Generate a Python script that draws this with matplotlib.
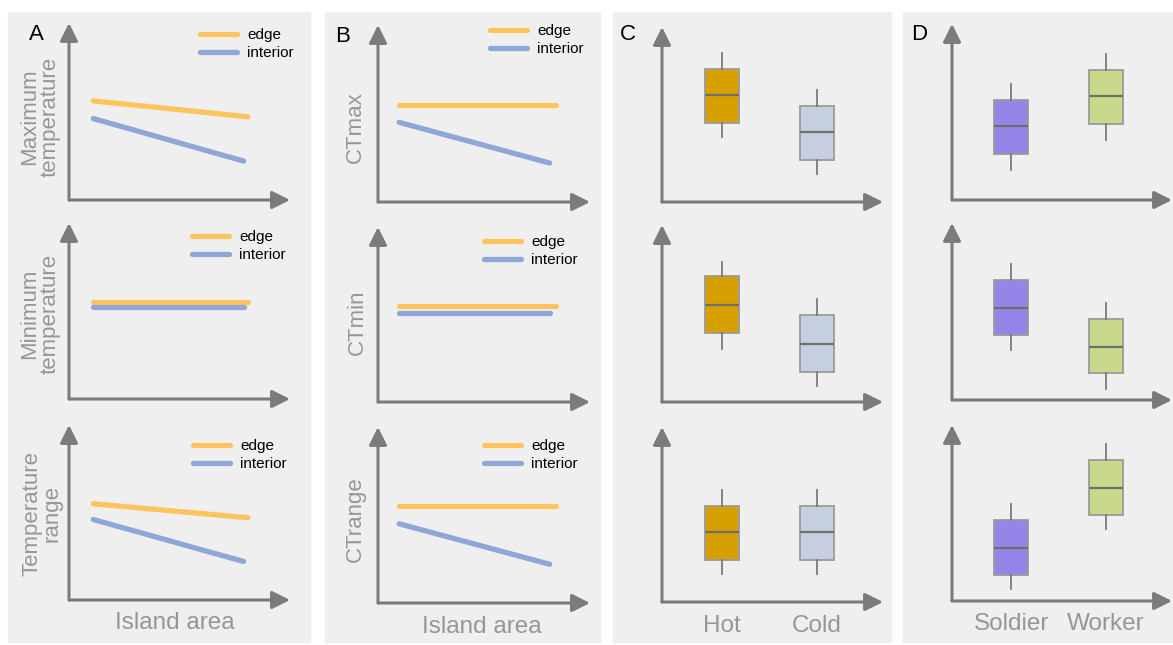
import matplotlib.pyplot as plt
from matplotlib.patches import Rectangle

plt.rcParams['font.family'] = ['Liberation Sans', 'DejaVu Sans']

W, H = 1173, 645

# --- data (arbitrary units, 0-10 on both axes) ---
# A / B: lines along island area
area_edge_A = [1.1, 8.1]
area_interior_A = [1.1, 7.9]
area_edge_B = [1.0, 8.4]
area_interior_B = [1.0, 8.1]

max_temp_edge = [5.6, 4.7]
max_temp_interior = [4.6, 2.2]
min_temp_edge = [5.5, 5.5]
min_temp_interior = [5.2, 5.2]
temp_range_edge = [5.5, 4.7]
temp_range_interior = [4.6, 2.2]

ctmax_edge = [5.5, 5.5]
ctmax_interior = [4.5, 2.2]
ctmin_edge = [5.5, 5.5]
ctmin_interior = [5.1, 5.1]
ctrange_edge = [5.5, 5.5]
ctrange_interior = [4.5, 2.2]

# C / D: boxes as [whislo, q1, med, q3, whishi]
hot_ctmax = [3.7, 4.5, 6.1, 7.6, 8.5]
cold_ctmax = [1.6, 2.4, 4.0, 5.5, 6.4]
hot_ctmin = [3.0, 3.9, 5.5, 7.1, 7.9]
cold_ctmin = [0.9, 1.7, 3.3, 4.9, 5.8]
hot_ctrange = [1.6, 2.4, 4.0, 5.5, 6.4]
cold_ctrange = [1.6, 2.4, 4.0, 5.5, 6.4]

soldier_ctmax = [1.7, 2.6, 4.2, 5.7, 6.6]
worker_ctmax = [3.4, 4.3, 5.9, 7.4, 8.3]
soldier_ctmin = [2.8, 3.7, 5.2, 6.8, 7.7]
worker_ctmin = [0.6, 1.5, 3.0, 4.6, 5.5]
soldier_ctrange = [0.7, 1.5, 3.0, 4.6, 5.5]
worker_ctrange = [4.1, 4.9, 6.4, 8.0, 8.9]

box_pos = [2.7, 7.0]
temp_groups = ['Hot', 'Cold']
caste_groups = ['Soldier', 'Worker']

# --- styles ---
bg = '#efefef'
axis_gray = '#7b7b7b'
label_gray = '#969696'
edge_col = '#ffc45e'
interior_col = '#8ea7d6'
hot_col = '#d6a100'
cold_col = '#c6cfdf'
soldier_col = '#9585e8'
worker_col = '#c9d98b'

fig = plt.figure(figsize=(W / 100, H / 100), dpi=100)

# grey panel backgrounds (pixel boxes: left, top, right, bottom)
for l, t, r, b in [(8, 12, 310, 642), (325, 12, 600, 642), (613, 12, 891, 642), (903, 12, 1173, 642)]:
    fig.add_artist(Rectangle((l / W, 1 - b / H), (r - l) / W, (b - t) / H,
                             transform=fig.transFigure, color=bg, zorder=0))


def make_ax(x0, x1, ybot, ytop):
    ax = fig.add_axes([x0 / W, 1 - ybot / H, (x1 - x0) / W, (ybot - ytop) / H])
    ax.set_xlim(0, 10)
    ax.set_ylim(0, 10)
    ax.patch.set_visible(False)
    for s in ax.spines.values():
        s.set_visible(False)
    ax.set_xticks([])
    ax.set_yticks([])
    kw = dict(arrowstyle='-|>,head_length=0.6,head_width=0.3', color=axis_gray,
              lw=2.2, shrinkA=0, shrinkB=0, mutation_scale=18)
    ax.annotate('', xy=(1, 0), xytext=(0, 0), xycoords='axes fraction',
                arrowprops=kw, annotation_clip=False)
    ax.annotate('', xy=(0, 1), xytext=(0, 0), xycoords='axes fraction',
                arrowprops=kw, annotation_clip=False)
    return ax


def to_axes(ax, px, py):
    # figure pixels -> axes fraction
    bb = ax.get_position()
    return (px / W - bb.x0) / bb.width, (1 - py / H - bb.y0) / bb.height


def line_panel(ax, xe, ye, xi, yi, ylabel, lab_x, lab_y, leg_x, leg_y):
    l1, = ax.plot(xe, ye, color=edge_col, lw=3.8, solid_capstyle='round')
    l2, = ax.plot(xi, yi, color=interior_col, lw=3.8, solid_capstyle='round')
    ax.legend([l1, l2], ['edge', 'interior'], loc='upper left',
              bbox_to_anchor=(leg_x / W, 1 - leg_y / H), bbox_transform=fig.transFigure,
              frameon=False, fontsize=11, handlelength=2.4, handletextpad=0.7,
              labelspacing=0.27, borderpad=0, borderaxespad=0)
    ax.set_ylabel(ylabel, fontsize=16, color=label_gray, linespacing=0.95,
                  va='center', ha='center')
    ax.yaxis.set_label_coords(*to_axes(ax, lab_x, lab_y))


def box_panel(ax, s1, s2, colors):
    stats = []
    for s in [s1, s2]:
        stats.append(dict(whislo=s[0], q1=s[1], med=s[2], q3=s[3], whishi=s[4], fliers=[]))
    bp = ax.bxp(stats, positions=box_pos, widths=1.55, patch_artist=True,
                showcaps=False, showfliers=False,
                boxprops=dict(edgecolor='#9a9a9a', lw=1.3),
                medianprops=dict(color='#6e6e6e', lw=1.6),
                whiskerprops=dict(color='#7a7a7a', lw=1.3))
    for patch, c in zip(bp['boxes'], colors):
        patch.set_facecolor(c)
    ax.set_xticks([])


# ---- column A ----
A_rows = [(200, 23), (399, 223), (600, 425)]
axA = [make_ax(69, 290, b, t) for b, t in A_rows]
line_panel(axA[0], area_edge_A, max_temp_edge, area_interior_A, max_temp_interior,
           'Maximum\ntemperature', 40, 117, 200, 28)
line_panel(axA[1], area_edge_A, min_temp_edge, area_interior_A, min_temp_interior,
           'Minimum\ntemperature', 40, 314, 192, 230)
line_panel(axA[2], area_edge_A, temp_range_edge, area_interior_A, temp_range_interior,
           'Temperature\nrange', 42, 514, 193, 439)
axA[2].set_xlabel('Island area', fontsize=17.5, color=label_gray, va='center')
axA[2].xaxis.set_label_coords(*to_axes(axA[2], 175, 623))

# ---- column B ----
B_rows = [(202, 25), (402, 227), (603, 427)]
axB = [make_ax(378, 590, b, t) for b, t in B_rows]
line_panel(axB[0], area_edge_B, ctmax_edge, area_interior_B, ctmax_interior,
           'CTmax', 355, 127, 490, 24)
line_panel(axB[1], area_edge_B, ctmin_edge, area_interior_B, ctmin_interior,
           'CTmin', 357, 322, 484, 235)
line_panel(axB[2], area_edge_B, ctrange_edge, area_interior_B, ctrange_interior,
           'CTrange', 355, 519, 484, 439)
axB[2].set_xlabel('Island area', fontsize=17.5, color=label_gray, va='center')
axB[2].xaxis.set_label_coords(*to_axes(axB[2], 482, 627))

# ---- column C ----
C_rows = [(202, 27), (402, 225), (602, 427)]
axC = [make_ax(662, 883, b, t) for b, t in C_rows]
box_panel(axC[0], hot_ctmax, cold_ctmax, [hot_col, cold_col])
box_panel(axC[1], hot_ctmin, cold_ctmin, [hot_col, cold_col])
box_panel(axC[2], hot_ctrange, cold_ctrange, [hot_col, cold_col])
axC[2].set_xticks(box_pos, temp_groups, fontsize=17.5, color=label_gray)
axC[2].tick_params(axis='x', length=0, pad=9)

# ---- column D ----
D_rows = [(200, 24), (400, 223), (601, 425)]
axD = [make_ax(952, 1172, b, t) for b, t in D_rows]
box_panel(axD[0], soldier_ctmax, worker_ctmax, [soldier_col, worker_col])
box_panel(axD[1], soldier_ctmin, worker_ctmin, [soldier_col, worker_col])
box_panel(axD[2], soldier_ctrange, worker_ctrange, [soldier_col, worker_col])
axD[2].set_xticks(box_pos, caste_groups, fontsize=17.5, color=label_gray)
axD[2].tick_params(axis='x', length=0, pad=9)

# panel letters
for letter, px, py in [('A', 29, 35), ('B', 335, 37), ('C', 620, 34), ('D', 911, 34)]:
    fig.text(px / W, 1 - py / H, letter, fontsize=16, color='black', va='center', ha='left')

plt.savefig('out.png', dpi=100)
